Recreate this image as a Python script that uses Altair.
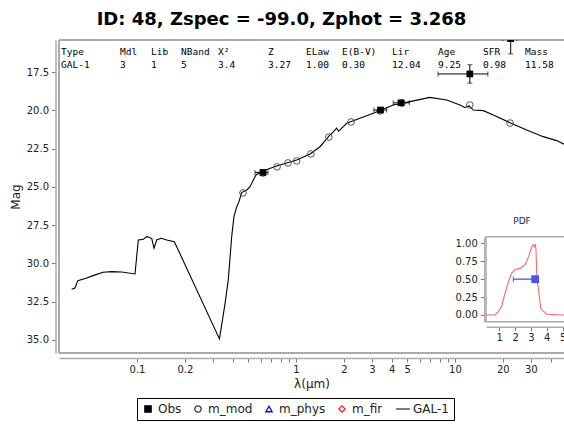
import altair as alt
import pandas as pd

# ---- GAL-1 best-fit template (wavelength in micron, AB magnitude) ----
sed_lam = [0.0388, 0.0407, 0.0424, 0.0483, 0.0529, 0.0611, 0.0693, 0.0802, 0.0971,
           0.1019, 0.1096, 0.1151, 0.1237, 0.1279, 0.1330, 0.1416, 0.1538, 0.1717,
           0.330, 0.358, 0.375, 0.394, 0.407, 0.424, 0.438, 0.455, 0.490, 0.514,
           0.539, 0.560, 0.623, 0.756, 1.01, 1.225, 1.416, 1.636, 1.70, 1.80, 1.85,
           1.891, 2.084, 2.526, 3.063, 4.09, 5.21, 6.96, 8.87, 10.75, 11.5, 12.3,
           13.03, 15.07, 17.42, 22.18, 28.25, 35.9, 43.6, 48.5]
sed_mag = [31.69, 31.61, 31.13, 30.95, 30.80, 30.58, 30.54, 30.56, 30.69,
           28.47, 28.42, 28.25, 28.36, 29.01, 28.47, 28.36, 28.47, 28.58,
           34.94, 32.61, 31.08, 28.25, 26.94, 26.29, 25.96, 25.37, 25.20, 24.98,
           24.54, 24.22, 23.94, 23.63, 23.24, 22.84, 22.37, 21.60, 21.45, 21.15, 21.35,
           21.27, 20.84, 20.51, 20.18, 19.64, 19.42, 19.14, 19.31, 19.64, 19.80, 19.70,
           19.97, 20.01, 20.29, 20.80, 21.27, 21.71, 21.97, 22.20]

# ---- model magnitudes in each filter ----
mod_lam = [0.464, 0.62, 0.76, 0.89, 1.01, 1.24, 1.61, 2.22, 3.38, 4.64, 12.4, 22.2]
mod_mag = [25.39, 24.09, 23.69, 23.43, 23.30, 22.84, 21.74, 20.75, 20.03, 19.51, 19.64, 20.82]

# ---- observed photometry ----
obs_lam = [0.62, 3.40, 4.57, 12.4, 22.4]
obs_lam_lo = [0.552, 3.09, 4.09, 7.82, 20.0]
obs_lam_hi = [0.667, 3.72, 5.16, 16.1, 24.5]
obs_mag = [24.05, 19.97, 19.50, 17.61, 15.30]
obs_err = [0.15, 0.15, 0.12, 0.60, 1.00]

# ---- redshift PDF ----
pdf_z = [0.16, 0.73, 0.94, 1.15, 1.36, 1.57, 1.78, 1.99, 2.31, 2.63, 2.84, 3.05,
         3.15, 3.22, 3.28, 3.32, 3.37, 3.45, 3.53, 3.62, 3.75, 4.0, 5.05, 6.0]
pdf_p = [0, 0, 0.046, 0.126, 0.30, 0.46, 0.58, 0.63, 0.65, 0.70, 0.81, 0.95,
         0.98, 0.95, 0.99, 0.91, 0.53, 0.39, 0.26, 0.09, 0.06, 0.01, 0, 0]
zphot = 3.268
zphot_lo = 1.89
zphot_hi = 3.40

# ---- fit summary table ----
tab_head = ["Type", "Mdl", "Lib", "NBand", "X²", "Z", "ELaw", "E(B-V)", "Lir", "Age", "SFR", "Mass"]
tab_vals = ["GAL-1", "3", "1", "5", "3.4", "3.27", "1.00", "0.30", "12.04", "9.25", "0.98", "11.58"]

# ---- legend entries ----
leg_names = ["Obs", "m_mod", "m_phys", "m_fir", "GAL-1"]

# layout
W, H = 505, 313
X_DOM = [0.0323, 48.5]
Y_DOM = [15.39, 35.86]
Z_DOM = [0.16, 6.0]
P_DOM = [-0.094, 1.092]
GRAY = "#aaaaaa"
col_px = [2, 61, 92, 122, 159, 209, 247, 283, 333, 379, 424, 466]

sed = pd.DataFrame({"lam": sed_lam, "mag": sed_mag})
mod = pd.DataFrame({"lam": mod_lam, "mag": mod_mag})
obs = pd.DataFrame({"lam": obs_lam, "lo": obs_lam_lo, "hi": obs_lam_hi, "mag": obs_mag})
obs["mlo"] = obs["mag"] - pd.Series(obs_err)
obs["mhi"] = obs["mag"] + pd.Series(obs_err)
pdf = pd.DataFrame({"z": pdf_z, "p": pdf_p})
zpt = pd.DataFrame({"z": [zphot], "lo": [zphot_lo], "hi": [zphot_hi], "p": [0.5]})
tab = pd.DataFrame({"head": tab_head, "val": tab_vals, "px": col_px})
leg = pd.DataFrame({"series": leg_names, "lam": [1e4] * 5, "mag": [20.0] * 5})

major = [0.1, 0.2, 1, 2, 3, 4, 5, 10, 20, 30]
xticks = [0.1, 0.2, 0.3, 0.4, 0.5, 0.6, 0.7, 0.8, 0.9, 1, 2, 3, 4, 5, 6, 7, 8, 9,
          10, 20, 30, 40]
label_expr = "indexof(%s, datum.value) >= 0 ? format(datum.value, '~g') : ''" % major

xs = alt.Scale(type="log", domain=X_DOM, nice=False)
ys = alt.Scale(domain=Y_DOM, reverse=True, nice=False, zero=False)

line = alt.Chart(sed).mark_line(color="black", strokeWidth=1.1, clip=True).encode(
    x=alt.X("lam:Q", scale=xs, title="λ(µm)",
            axis=alt.Axis(values=xticks, labelExpr=label_expr, offset=5, tickSize=4,
                          domainColor=GRAY, domainWidth=1.5, tickColor="#777",
                          labelColor="#222", labelFontSize=10, titleFontSize=12,
                          titleFontWeight="normal", titleColor="#222", titlePadding=4,
                          labelPadding=2, grid=False, labelFlush=False,
                          labelOverlap=False)),
    y=alt.Y("mag:Q", scale=ys, title="Mag",
            axis=alt.Axis(values=[17.5, 20, 22.5, 25, 27.5, 30, 32.5, 35], format=".1f",
                          offset=3.5, tickSize=4, domainColor=GRAY, domainWidth=1.5,
                          tickColor="#777", labelColor="#222", labelFontSize=10,
                          titleFontSize=12, titleFontWeight="normal", titleColor="#222",
                          titlePadding=4, labelPadding=3, grid=False)),
)

circles = alt.Chart(mod).mark_point(shape="circle", filled=False, color="#555555",
                                    size=44, strokeWidth=1, opacity=1, clip=True).encode(
    x="lam:Q", y="mag:Q")

hbar = alt.Chart(obs).mark_rule(color="black", strokeWidth=1, clip=True).encode(
    x="lo:Q", x2="hi:Q", y="mag:Q")
hcap_lo = alt.Chart(obs).mark_tick(color="black", orient="vertical", size=5,
                                   thickness=1, clip=True).encode(x="lo:Q", y="mag:Q")
hcap_hi = alt.Chart(obs).mark_tick(color="black", orient="vertical", size=5,
                                   thickness=1, clip=True).encode(x="hi:Q", y="mag:Q")
vbar = alt.Chart(obs).mark_rule(color="black", strokeWidth=1, clip=True).encode(
    x="lam:Q", y="mlo:Q", y2="mhi:Q")
vcap_lo = alt.Chart(obs).mark_tick(color="black", orient="horizontal", size=5,
                                   thickness=1, clip=True).encode(x="lam:Q", y="mlo:Q")
vcap_hi = alt.Chart(obs).mark_tick(color="black", orient="horizontal", size=5,
                                   thickness=1, clip=True).encode(x="lam:Q", y="mhi:Q")
squares = alt.Chart(obs).mark_point(shape="square", filled=True, color="black",
                                    size=45, opacity=1, clip=True).encode(
    x="lam:Q", y="mag:Q")

# frame of the SED panel
frame_top = alt.Chart(sed).mark_rule(color=GRAY, strokeWidth=1.5).encode(y=alt.value(0))
frame_bot = alt.Chart(sed).mark_rule(color=GRAY, strokeWidth=1.5).encode(y=alt.value(H))
frame_left = alt.Chart(sed).mark_rule(color=GRAY, strokeWidth=1.5).encode(x=alt.value(0))

head_txt = alt.Chart(tab).mark_text(align="left", baseline="middle", font="DejaVu Sans Mono",
                                    fontSize=9.5, color="black").encode(
    x=alt.X("px:Q", scale=None), y=alt.value(12), text="head:N")
val_txt = alt.Chart(tab).mark_text(align="left", baseline="middle", font="DejaVu Sans Mono",
                                   fontSize=9.5, color="black").encode(
    x=alt.X("px:Q", scale=None), y=alt.value(25), text="val:N")

# legend symbols: filled square, open circle/triangle/diamond, and a short line
line_glyph = "M-2.2,0H2.2"
legend_pts = alt.Chart(leg).mark_point(clip=True, strokeWidth=1.3, opacity=1).encode(
    x="lam:Q", y="mag:Q",
    shape=alt.Shape("series:N", title=None,
                    scale=alt.Scale(domain=leg_names,
                                    range=["square", "circle", "triangle-up", "diamond", line_glyph])),
    stroke=alt.Stroke("series:N", title=None,
                      scale=alt.Scale(domain=leg_names,
                                      range=["black", "#333333", "#0000ff", "#ff2020", "#333333"])),
    fill=alt.Fill("series:N", title=None,
                  scale=alt.Scale(domain=leg_names,
                                  range=["black", "white", "white", "white", "white"])),
)

main = alt.layer(frame_top, frame_bot, frame_left, line, circles,
                 hbar, hcap_lo, hcap_hi, vbar, vcap_lo, vcap_hi, squares,
                 head_txt, val_txt, legend_pts)

# ---- PDF inset ----
zs = alt.Scale(domain=Z_DOM, range=[427, 519.4], nice=False, zero=False)
ps = alt.Scale(domain=P_DOM, range=[281.7, 196.7], nice=False, zero=False)

pdf_line = alt.Chart(pdf).mark_line(color="#ff4d4d", strokeWidth=1.1, opacity=0.85).encode(
    x=alt.X("z:Q", scale=zs, title=None,
            axis=alt.Axis(orient="bottom", values=[1, 2, 3, 4, 5], format="d", offset=-26.3,
                          tickSize=4, domainColor=GRAY, domainWidth=1.5, tickColor="#777",
                          labelColor="#222", labelFontSize=10, labelPadding=2,
                          grid=False, labelFlush=False, labelOverlap=False)),
    y=alt.Y("p:Q", scale=ps, title=None,
            axis=alt.Axis(orient="left", values=[0, 0.25, 0.5, 0.75, 1.0], format=".2f",
                          offset=-425.3, tickSize=4, domainColor=GRAY, domainWidth=1.5,
                          tickColor="#777", labelColor="#222", labelFontSize=10,
                          labelPadding=3, grid=False, labelOverlap=False)),
)
inset_box = alt.Chart(zpt).mark_rect(fill="white", stroke=GRAY, strokeWidth=1.5).encode(
    x=alt.datum(Z_DOM[0]), x2=alt.datum(Z_DOM[1]),
    y=alt.datum(P_DOM[0]), y2=alt.datum(P_DOM[1]))
z_err = alt.Chart(zpt).mark_rule(color="#3344ff", strokeWidth=1.2).encode(
    x="lo:Q", x2="hi:Q", y="p:Q")
z_cap = alt.Chart(zpt).mark_tick(color="#3344ff", orient="vertical", size=6,
                                 thickness=1.2).encode(x="lo:Q", y="p:Q")
z_pt = alt.Chart(zpt).mark_point(shape="square", filled=True, color="#4455ff",
                                 size=60, opacity=1).encode(x="z:Q", y="p:Q")
pdf_title = alt.Chart(zpt).mark_text(fontSize=9, color="#222", font="DejaVu Sans").encode(
    x=alt.value(463), y=alt.value(181), text=alt.value("PDF"))

inset = alt.layer(pdf_line, inset_box, pdf_line, z_err, z_cap, z_pt, pdf_title)

chart = alt.layer(main, inset).resolve_scale(x="independent", y="independent").properties(
    width=W, height=H,
    title=alt.TitleParams("ID: 48, Zspec = -99.0, Zphot = 3.268", anchor="middle",
                          frame="group", dx=-30, dy=18, fontSize=18, fontWeight="bold",
                          font="DejaVu Sans", color="black", baseline="alphabetic", offset=14),
    autosize=alt.AutoSizeParams(type="none"),
    padding={"left": 59, "top": 40, "right": 0, "bottom": 73},
).configure_view(stroke=None).configure_axis(
    labelFont="DejaVu Sans", titleFont="DejaVu Sans"
).configure_legend(
    orient="none", legendX=78, legendY=358, direction="horizontal", columns=5,
    strokeColor="black", padding=5, labelFontSize=12, labelFont="DejaVu Sans",
    labelColor="#222", symbolStrokeWidth=1.3, symbolSize=40, columnPadding=10,
    labelOffset=4, cornerRadius=0, fillColor="white", symbolOpacity=1,
)

chart.save("out.html", embed_options={"renderer": "svg", "actions": False})
